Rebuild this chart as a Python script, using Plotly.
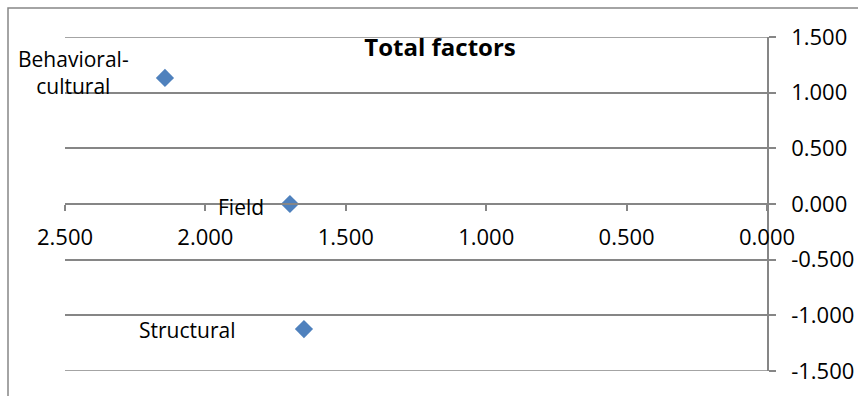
import plotly.graph_objects as go

labels = ["Behavioral-<br>cultural", "Field", "Structural"]
x_vals = [2.144, 1.699, 1.649]
y_vals = [1.132, 0.0, -1.123]
x_ticks = [2.5, 2.0, 1.5, 1.0, 0.5, 0.0]
y_ticks = [1.5, 1.0, 0.5, 0.0, -0.5, -1.0, -1.5]

label_xshift = [-34, -24, -67]
label_yshift = [5, -3, -1]

W, H = 858, 396
ML, MR, MT, MB = 65, 91, 37, 25
PW, PH = W - ML - MR, H - MT - MB

GRAY = "#868686"
FONT = "Open Sans"

fig = go.Figure()
fig.add_trace(go.Scatter(
    x=x_vals, y=y_vals, mode="markers",
    marker=dict(symbol="diamond", size=14, color="#4F81BD", line=dict(width=0)),
    showlegend=False, hoverinfo="skip",
))

for lab, xv, yv, dx, dy in zip(labels, x_vals, y_vals, label_xshift, label_yshift):
    fig.add_annotation(x=xv, y=yv, text=lab, showarrow=False, xanchor="right",
                       yanchor="middle", xshift=dx, yshift=dy, align="center",
                       font=dict(family=FONT, size=21, color="#000000"))

# gridlines at the range edges (plotly omits them)
for yv in (max(y_ticks), min(y_ticks)):
    fig.add_shape(type="line", xref="paper", yref="y", x0=0, x1=(PW + 7) / PW,
                  y0=yv, y1=yv, line=dict(color=GRAY, width=1.5), layer="below")

# chart border (partly cropped)
fig.add_shape(type="rect", xref="paper", yref="paper",
              x0=(8 - ML) / PW, x1=(W + 20 - ML) / PW,
              y0=-(MB + 20) / PH, y1=(H - MB - 8) / PH,
              line=dict(color=GRAY, width=1.5), fillcolor="rgba(0,0,0,0)", layer="below")

fig.update_layout(
    width=W, height=H,
    margin=dict(l=ML, r=MR, t=MT, b=MB, autoexpand=False),
    paper_bgcolor="white", plot_bgcolor="white",
    title=dict(text="<b>Total factors</b>", xref="paper", yref="paper",
               x=(440 - ML) / PW, y=(H - MB - 48) / PH, xanchor="center", yanchor="middle",
               font=dict(family=FONT, size=24, color="#000000")),
    xaxis=dict(range=[2.5, 0.0], tickvals=x_ticks,
               ticktext=[f"{v:.3f}" for v in x_ticks], automargin=False,
               showgrid=False, zeroline=False, showline=True, linecolor=GRAY, linewidth=1.5,
               ticks="outside", ticklen=6, tickcolor=GRAY, tickwidth=1.5,
               anchor="free", position=0.5, ticklabelstandoff=8,
               tickfont=dict(family=FONT, size=22, color="#000000")),
    yaxis=dict(range=[-1.5, 1.5], tickvals=y_ticks,
               ticktext=[f"{v:.3f}" for v in y_ticks], side="right", automargin=False,
               showgrid=True, gridcolor=GRAY, gridwidth=1.5, zeroline=False,
               showline=True, linecolor=GRAY, linewidth=1.5,
               ticks="outside", ticklen=7, tickcolor=GRAY, tickwidth=1.5,
               ticklabelstandoff=11,
               tickfont=dict(family=FONT, size=22, color="#000000")),
)

fig.write_html("out.html")
